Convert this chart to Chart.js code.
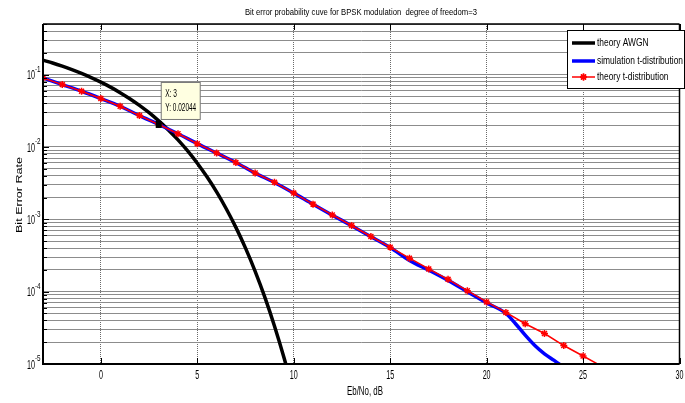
<!DOCTYPE html>
<html>
<head>
<meta charset="utf-8">
<script src="https://cdn.jsdelivr.net/npm/chart.js@4/dist/chart.umd.min.js"></script>
<style>
  html, body { margin: 0; padding: 0; background: #fff; }
</style>
</head>
<body>
<canvas id="grafico" width="685" height="403"></canvas>
<script>
// textos
const tituloTexto = 'Bit error probability cuve for BPSK modulation  degree of freedom=3';
const tituloX = 'Eb/No, dB';
const tituloY = 'Bit Error Rate';
const nomesSeries = ['theory AWGN', 'simulation t-distribution', 'theory t-distribution'];

// ticks
const ticksX = [0, 5, 10, 15, 20, 25, 30];
const expoentesY = [-1, -2, -3, -4, -5];

// curva teorica AWGN
const ebnoAwgn = [-3, -2.5, -2, -1.5, -1, -0.5, 0, 0.5, 1, 1.5, 2, 2.5, 3, 3.5, 4, 4.5, 5, 5.5, 6, 6.5, 7, 7.5, 8, 8.5, 9, 9.5, 10];
const berAwgn = [0.158, 0.1445, 0.1306, 0.117, 0.1038, 0.0909, 0.0786, 0.0671, 0.0563, 0.0464, 0.0375, 0.0297, 0.0229, 0.0172, 0.0125, 0.0088, 0.00595, 0.00386, 0.00239, 0.0014, 7.73e-4, 3.99e-4, 1.91e-4, 8.4e-5, 3.36e-5, 1.21e-5, 3.87e-6];

// simulacao t-distribution
const ebnoSim = [-3, -2, -1, 0, 1, 2, 3, 4, 5, 6, 7, 8, 9, 10, 11, 12, 13, 14, 15, 16, 17, 18, 19, 20, 21, 21.5, 22, 22.5, 23, 23.5, 24];
const berSim = [0.090, 0.0727, 0.0588, 0.0466, 0.0365, 0.0271, 0.02044, 0.0152, 0.0111, 0.00822, 0.0061, 0.00435, 0.00323, 0.0023, 0.00161, 0.00114, 8.15e-4, 5.75e-4, 4.08e-4, 2.7e-4, 1.98e-4, 1.43e-4, 1.0e-4, 7.0e-5, 5.0e-5, 3.6e-5, 2.5e-5, 1.8e-5, 1.38e-5, 1.12e-5, 9.0e-6];

// teoria t-distribution
const ebnoTeoT = [-3, -2, -1, 0, 1, 2, 3, 4, 5, 6, 7, 8, 9, 10, 11, 12, 13, 14, 15, 16, 17, 18, 19, 20, 21, 22, 23, 24, 25, 26];
const berTeoT = [0.090, 0.0727, 0.0588, 0.0466, 0.0365, 0.0271, 0.02044, 0.0152, 0.0111, 0.00824, 0.00611, 0.00436, 0.00324, 0.0023, 0.00162, 0.00115, 8.2e-4, 5.78e-4, 4.12e-4, 2.9e-4, 2.06e-4, 1.48e-4, 1.03e-4, 7.2e-5, 5.16e-5, 3.6e-5, 2.64e-5, 1.8e-5, 1.29e-5, 9.2e-6];

// data tip
const dicaX = 3;
const dicaY = 0.02044;

const FONTE = "'Liberation Sans', Arial, sans-serif";

function pontos(xs, ys) {
    return xs.map((x, i) => ({ x: x, y: ys[i] }));
}

// texto com compressao horizontal (a figura original esta achatada)
function texto(c, txt, x, y, tam, sx, alinh) {
    c.save();
    c.font = tam + 'px ' + FONTE;
    c.translate(x, y);
    c.scale(sx, 1);
    c.textAlign = alinh;
    c.textBaseline = 'middle';
    c.fillStyle = '#000';
    c.fillText(txt, 0, 0);
    c.restore();
}

function escalaPara(c, txt, tam, largura) {
    c.save();
    c.font = tam + 'px ' + FONTE;
    const w = c.measureText(txt).width;
    c.restore();
    return largura / w;
}

const moldura = {
    id: 'moldura',
    afterDraw(chart) {
        const c = chart.ctx;
        const a = chart.chartArea;
        const sx = chart.scales.x;
        const sy = chart.scales.y;

        // bordas dos eixos
        c.save();
        c.strokeStyle = '#000';
        c.lineWidth = 2;
        c.beginPath();
        c.moveTo(a.left, a.top); c.lineTo(a.left, a.bottom);
        c.moveTo(a.left - 1, a.bottom); c.lineTo(a.right, a.bottom);
        c.stroke();
        c.lineWidth = 1.5;
        c.beginPath();
        c.moveTo(a.left, a.top); c.lineTo(a.right, a.top);
        c.moveTo(a.right, a.top); c.lineTo(a.right, a.bottom);
        c.stroke();

        // marcas de tick
        c.lineWidth = 1;
        c.beginPath();
        ticksX.forEach(v => {
            const px = Math.round(sx.getPixelForValue(v)) + 0.5;
            c.moveTo(px, a.bottom); c.lineTo(px, a.bottom - 6);
            c.moveTo(px, a.top); c.lineTo(px, a.top + 6);
        });
        sy.ticks.forEach(t => {
            const py = Math.round(sy.getPixelForValue(t.value)) + 0.5;
            const maior = expoentesY.some(e => Math.abs(Math.pow(10, e) - t.value) < 1e-12);
            c.moveTo(a.left, py); c.lineTo(a.left + (maior ? 6 : 4), py);
        });
        c.stroke();
        c.restore();

        // rotulos do eixo x
        ticksX.forEach(v => {
            texto(c, String(v), sx.getPixelForValue(v), 375, 13, 0.55, 'center');
        });

        // rotulos do eixo y (10 com expoente)
        expoentesY.forEach(e => {
            const py = sy.getPixelForValue(Math.pow(10, e));
            texto(c, '10', 35, py + 1.5, 12, 0.6, 'right');
            texto(c, String(e), 35, py - 5, 9, 0.7, 'left');
        });

        // titulos
        texto(c, tituloTexto, 361, 13, 9, escalaPara(c, tituloTexto, 9, 232), 'center');
        texto(c, tituloX, 365, 392, 12, escalaPara(c, tituloX, 12, 36), 'center');
        c.save();
        c.translate(19, 195);
        c.rotate(-Math.PI / 2);
        texto(c, tituloY, 0, 0, 9.5, escalaPara(c, tituloY, 9.5, 76), 'center');
        c.restore();

        // data tip
        const px = sx.getPixelForValue(dicaX);
        const py = sy.getPixelForValue(dicaY);
        c.save();
        c.fillStyle = '#ffffe1';
        c.strokeStyle = '#777';
        c.lineWidth = 1;
        c.fillRect(px + 2.5, py - 42, 39, 37);
        c.strokeRect(px + 2.5, py - 42, 39, 37);
        c.fillStyle = '#000';
        c.fillRect(px - 3, py - 3.5, 6, 7);
        c.restore();
        texto(c, 'X: ' + dicaX, px + 6.5, py - 30, 11, 0.6, 'left');
        texto(c, 'Y: ' + dicaY, px + 6.5, py - 16, 11, escalaPara(c, 'Y: ' + dicaY, 11, 31), 'left');

        // legenda
        const lx = 567, ly = 30, lw = 117, lh = 58;
        c.save();
        c.fillStyle = '#fff';
        c.fillRect(lx, ly, lw, lh);
        c.strokeStyle = '#000';
        c.lineWidth = 1;
        c.strokeRect(lx + 0.5, ly + 0.5, lw, lh);
        c.restore();
        const linhasY = [43, 61, 77];
        const escLeg = escalaPara(c, nomesSeries[1], 11, 86);
        chart.data.datasets.forEach((ds, i) => {
            const yy = linhasY[i];
            c.save();
            c.strokeStyle = ds.borderColor;
            c.lineWidth = ds.borderWidth;
            c.beginPath();
            c.moveTo(572, yy); c.lineTo(595, yy);
            c.stroke();
            if (ds.pointRadius > 0) {
                Chart.helpers.drawPoint(c, {
                    pointStyle: ds.pointStyle,
                    radius: ds.pointRadius,
                    borderWidth: ds.pointBorderWidth,
                    rotation: 0
                }, 583.5, yy);
                c.strokeStyle = ds.borderColor;
                c.lineWidth = ds.pointBorderWidth;
                c.stroke();
            }
            c.restore();
            texto(c, ds.label, 597, yy, 11, escLeg, 'left');
        });
    }
};

function ticksY() {
    const lista = [];
    for (let e = -5; e <= -1; e++) {
        for (let m = 1; m <= 9; m++) {
            const v = m * Math.pow(10, e);
            if (v <= 0.5 + 1e-12) lista.push({ value: v });
        }
    }
    return lista;
}

document.addEventListener('DOMContentLoaded', () => {
    const ctx = document.getElementById('grafico').getContext('2d');
    new Chart(ctx, {
        type: 'line',
        data: {
            datasets: [
                {
                    label: nomesSeries[0],
                    data: pontos(ebnoAwgn, berAwgn),
                    borderColor: '#000000',
                    borderWidth: 3.5,
                    pointRadius: 0,
                    cubicInterpolationMode: 'monotone',
                    order: 3
                },
                {
                    label: nomesSeries[1],
                    data: pontos(ebnoSim, berSim),
                    borderColor: '#0000ff',
                    borderWidth: 3.5,
                    pointRadius: 0,
                    cubicInterpolationMode: 'monotone',
                    order: 2
                },
                {
                    label: nomesSeries[2],
                    data: pontos(ebnoTeoT, berTeoT),
                    borderColor: '#ff0000',
                    backgroundColor: '#ff0000',
                    borderWidth: 1.5,
                    pointStyle: 'star',
                    pointRadius: 3.5,
                    pointBorderWidth: 1.5,
                    pointBorderColor: '#ff0000',
                    order: 1
                }
            ]
        },
        options: {
            responsive: false,
            animation: false,
            devicePixelRatio: 1,
            layout: { padding: { top: 24, right: 1, left: 0, bottom: 0 } },
            plugins: {
                legend: { display: false },
                tooltip: { enabled: false },
                title: { display: false }
            },
            scales: {
                x: {
                    type: 'linear',
                    min: -3,
                    max: 30,
                    afterBuildTicks: s => { s.ticks = ticksX.map(v => ({ value: v })); },
                    afterFit: s => { s.height = 39; },
                    ticks: { display: false },
                    grid: { color: '#6a6a6a', lineWidth: 1, drawTicks: false },
                    border: { display: false, dash: [1, 1] }
                },
                y: {
                    type: 'logarithmic',
                    min: 1e-5,
                    max: 0.5,
                    afterBuildTicks: s => { s.ticks = ticksY(); },
                    afterFit: s => { s.width = 43; },
                    ticks: { display: false },
                    grid: { color: '#8c8c8c', lineWidth: 1, drawTicks: false },
                    border: { display: false }
                }
            }
        },
        plugins: [moldura]
    });
});
</script>
</body>
</html>
